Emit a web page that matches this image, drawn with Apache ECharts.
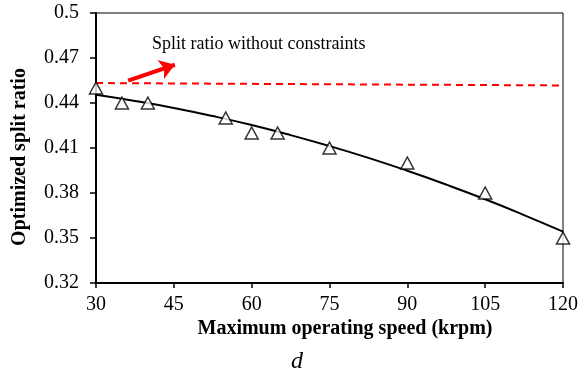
<!DOCTYPE html>
<html>
<head>
<meta charset="utf-8">
<script src="https://cdn.jsdelivr.net/npm/echarts@6/dist/echarts.min.js"></script>
<style>
html,body{margin:0;padding:0;background:#fff;}
#chart{width:586px;height:374px;}
</style>
</head>
<body>
<div id="chart"></div>
<script>
// ---- data ----
const speeds = [30, 35, 40, 55, 60, 65, 75, 90, 105, 120];
const optimizedRatio = [0.45, 0.44, 0.44, 0.43, 0.42, 0.42, 0.41, 0.40, 0.38, 0.35];
const trendX = [30, 37.5, 45, 52.5, 60, 67.5, 75, 82.5, 90, 97.5, 105, 112.5, 120];
const trendY = [0.4455, 0.4414, 0.4367, 0.4313, 0.4253, 0.4186, 0.4113, 0.4034, 0.3948, 0.3856, 0.3758, 0.3653, 0.3542];
const unconstrainedX = [30, 120];
const unconstrainedY = [0.4533, 0.4517];
const arrowStart = [36.2, 0.4549];
const arrowEnd = [45.2, 0.4655];
const annotationText = 'Split ratio without constraints';
const xTitle = 'Maximum operating speed (krpm)';
const yTitle = 'Optimized split ratio';
const panelLabel = 'd';

const font = '"Liberation Serif", "Times New Roman", serif';
const chart = echarts.init(document.getElementById('chart'), null, {renderer: 'canvas'});

const zip = (a, b) => a.map((v, i) => [v, b[i]]);

chart.setOption({
  animation: false,
  backgroundColor: '#fff',
  grid: {left: 96, right: 23, top: 13, bottom: 91, show: true, borderColor: '#000', borderWidth: 1},
  xAxis: {
    type: 'value', min: 30, max: 120, interval: 15,
    axisLine: {show: true, onZero: false, lineStyle: {color: '#000', width: 2}},
    axisTick: {show: true, inside: false, length: 5, lineStyle: {color: '#000', width: 1.5}},
    axisLabel: {color: '#000', fontFamily: font, fontSize: 20, margin: 12},
    splitLine: {show: false}
  },
  yAxis: {
    type: 'value', min: 0.32, max: 0.5, interval: 0.03,
    axisLine: {show: true, onZero: false, lineStyle: {color: '#000', width: 2}},
    axisTick: {show: true, inside: false, length: 6, lineStyle: {color: '#000', width: 1.5}},
    axisLabel: {color: '#000', fontFamily: font, fontSize: 20, margin: 17,
      formatter: v => String(+v.toFixed(2))},
    splitLine: {show: false}
  },
  series: [
    {
      type: 'line', data: zip(unconstrainedX, unconstrainedY),
      showSymbol: false, symbol: 'none',
      lineStyle: {color: '#ff0000', width: 2, type: [7, 5]},
      z: 2
    },
    {
      type: 'lines', coordinateSystem: 'cartesian2d',
      silent: true,
      symbol: ['none', 'arrow'],
      symbolSize: 15,
      lineStyle: {color: '#ff0000', width: 4, opacity: 1, type: 'solid'},
      data: [{coords: [arrowStart, arrowEnd]}],
      z: 5
    },
    {
      type: 'line', data: zip(trendX, trendY), smooth: true,
      showSymbol: false, symbol: 'none',
      lineStyle: {color: '#000', width: 2}, z: 3
    },
    {
      type: 'scatter', data: zip(speeds, optimizedRatio),
      symbol: 'triangle', symbolSize: [13, 12],
      itemStyle: {color: '#fff', borderColor: '#000', borderWidth: 1.5}, z: 4
    }
  ],
  graphic: [
    {type: 'text', left: 152, top: 35,
      style: {text: annotationText, font: '18px ' + font, fill: '#000'}},
    {type: 'text', x: 345, y: 329,
      style: {text: xTitle, font: 'bold 20px ' + font, fill: '#000', textAlign: 'center', textVerticalAlign: 'middle'}},
    {type: 'text', x: 20, y: 157, rotation: Math.PI / 2,
      style: {text: yTitle, font: 'bold 20px ' + font, fill: '#000', textAlign: 'center', textVerticalAlign: 'middle'}},
    {type: 'text', x: 297, y: 362,
      style: {text: panelLabel, font: 'italic 24px ' + font, fill: '#000', textAlign: 'center', textVerticalAlign: 'middle'}}
  ]
});
</script>
</body>
</html>
